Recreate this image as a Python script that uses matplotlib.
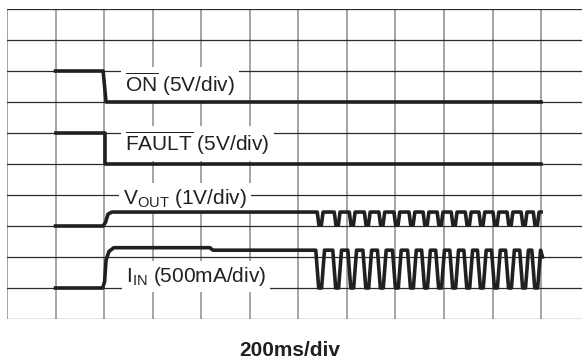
import matplotlib
matplotlib.use("Agg")
import matplotlib.pyplot as plt

plt.rcParams['font.family'] = ['Liberation Sans', 'DejaVu Sans']
plt.rcParams['mathtext.fontset'] = 'custom'
plt.rcParams['mathtext.rm'] = 'Liberation Sans'

# x in divisions (200ms/div), y in divisions
on_x = [1.0, 1.98, 2.04, 11.0]
on_y = [8.0, 8.0, 7.0, 7.0]

fault_x = [1.0, 2.02, 2.02, 11.0]
fault_y = [6.0, 6.0, 5.0, 5.0]

vout_x = [1.0, 1.98, 2.03, 2.08, 2.16, 6.38]
vout_y = [3.0, 3.0, 3.12, 3.38, 3.45, 3.45]
vout_end_x = [10.96, 11.0]
vout_end_y = [3.45, 3.45]

iin_x = [1.0, 1.97, 2.01, 2.04, 2.10, 2.20, 4.18, 4.24, 6.36]
iin_y = [1.0, 1.0, 1.2, 1.9, 2.18, 2.30, 2.30, 2.22, 2.22]
iin_end_x = [10.99, 11.03]
iin_end_y = [2.22, 2.0]

# oscillation dips
dips = [6.45, 6.80, 7.11, 7.42, 7.72, 8.03, 8.34, 8.63, 8.92, 9.21,
        9.50, 9.78, 10.07, 10.36, 10.65, 10.90]
vout_dip_dx = [-0.06, -0.025, 0.025, 0.06]
vout_dip_y = [3.45, 3.03, 3.03, 3.45]
iin_dip_dx = [-0.09, -0.03, 0.03, 0.09]
iin_dip_y = [2.22, 1.0, 1.0, 2.22]

for d in dips:
    vout_x += [d + dx for dx in vout_dip_dx]
    vout_y += vout_dip_y
    iin_x += [d + dx for dx in iin_dip_dx]
    iin_y += iin_dip_y
vout_x += vout_end_x
vout_y += vout_end_y
iin_x += iin_end_x
iin_y += iin_end_y

fig = plt.figure(figsize=(5.82, 3.64), dpi=100)
ax = fig.add_axes([7/582, 45/364, 575/582, 310/364])
ax.set_xlim(0, 575/48.55)
ax.set_ylim(0, 10)
ax.axis('off')

for i in range(12):
    ax.axvline(i, color='#8c8c8c', lw=1.1, zorder=1)
for j in range(11):
    ax.axhline(j, color='#2a2a2a', lw=0.9, zorder=1)

tc = '#231f20'
for xs, ys in [(on_x, on_y), (fault_x, fault_y), (vout_x, vout_y), (iin_x, iin_y)]:
    ax.plot(xs, ys, color=tc, lw=2.6, zorder=4, solid_joinstyle='round')

box = dict(facecolor='white', edgecolor='none', pad=3)
ax.text(2.43, 7.32, r'$\overline{\mathrm{ON}}$ (5V/div)', fontsize=15, va='baseline',
        color=tc, bbox=box, zorder=3)
ax.text(2.43, 5.42, r'$\overline{\mathrm{FAULT}}$ (5V/div)', fontsize=15, va='baseline',
        color=tc, bbox=box, zorder=3)
ax.text(2.39, 3.71, r'V$_{\mathrm{OUT}}$ (1V/div)', fontsize=15, va='baseline',
        color=tc, bbox=box, zorder=3)
ax.text(2.45, 1.19, r'I$_{\mathrm{IN}}$ (500mA/div)', fontsize=15, va='baseline',
        color=tc, bbox=box, zorder=3)

fig.text(290/582, 1 - 350/364, '200ms/div', ha='center', va='center',
         fontsize=15, fontweight='bold', color=tc)

fig.savefig('out.png', dpi=100)
